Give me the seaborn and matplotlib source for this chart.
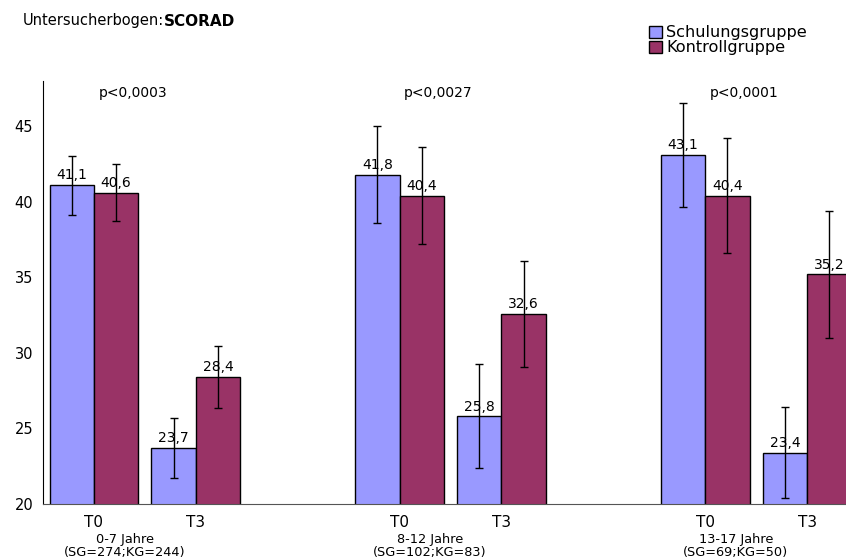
import pandas as pd
import seaborn as sns
import matplotlib.pyplot as plt
from matplotlib.patches import Patch

# categories on the x axis ("gap" = space between age groups)
categories = ["g1_T0", "g1_T3", "gap1", "g2_T0", "g2_T3", "gap2", "g3_T0", "g3_T3"]
tick_labels = ["T0", "T3", "", "T0", "T3", "", "T0", "T3"]
age_groups = ["0-7 Jahre\n(SG=274;KG=244)", "8-12 Jahre\n(SG=102;KG=83)", "13-17 Jahre\n(SG=69;KG=50)"]
p_values = ["p<0,0003", "p<0,0027", "p<0,0001"]

bar_cats = ["g1_T0", "g1_T3", "g2_T0", "g2_T3", "g3_T0", "g3_T3"]
schulung = [41.1, 23.7, 41.8, 25.8, 43.1, 23.4]
schulung_sd = [1.95, 2.0, 3.2, 3.45, 3.45, 3.0]
kontroll = [40.6, 28.4, 40.4, 32.6, 40.4, 35.2]
kontroll_sd = [1.9, 2.05, 3.2, 3.5, 3.8, 4.2]

groups = ["Schulungsgruppe", "Kontrollgruppe"]
colors = ["#9999FF", "#993366"]

df = pd.DataFrame({
    "cat": bar_cats * 2,
    "gruppe": [groups[0]] * len(bar_cats) + [groups[1]] * len(bar_cats),
    "wert": schulung + kontroll,
    "sd": schulung_sd + kontroll_sd,
})

sns.set_style("white")
plt.rcParams["font.family"] = ["DejaVu Sans"]
plt.rcParams["text.color"] = "black"
plt.rcParams["xtick.color"] = "black"
plt.rcParams["ytick.color"] = "black"

fig = plt.figure(figsize=(8.46, 5.59), dpi=100)
ax = fig.add_axes([43 / 846, 55 / 559, 815 / 846, 423 / 559])

sns.barplot(data=df, x="cat", y="wert", hue="gruppe", order=categories,
            hue_order=groups, palette=colors, saturation=1, width=0.87, gap=0,
            edgecolor="black", linewidth=1, errorbar=None, ax=ax, legend=False)

# error bars and value labels
bar_containers = list(ax.containers)
for gi, cont in enumerate(bar_containers):
    sub = df[df["gruppe"] == groups[gi]].set_index("cat")
    xs, ys, es, labs = [], [], [], []
    for bar in cont:
        xc = bar.get_x() + bar.get_width() / 2
        cat = categories[int(round(xc))]
        xs.append(xc)
        ys.append(sub.loc[cat, "wert"])
        es.append(sub.loc[cat, "sd"])
        labs.append(f"{sub.loc[cat, 'wert']:.1f}".replace(".", ","))
    ax.bar_label(cont, labels=labs, padding=2, fontsize=10)
    ax.errorbar(xs, ys, yerr=es, fmt="none", ecolor="black", elinewidth=1,
                capsize=3, capthick=1, zorder=5)

ax.set_ylim(20, 48)
ax.set_xlim(-0.5, 7.5)
ax.set_yticks([20, 25, 30, 35, 40, 45])
ax.set_xticks(range(len(categories)))
ax.set_xticklabels(tick_labels, fontsize=11)
ax.set_xticks([i + 0.5 for i in range(-1, len(categories))], minor=True)
ax.tick_params(axis="x", which="major", length=0, pad=8)
ax.tick_params(axis="x", which="minor", length=4, direction="out", width=0.8)
ax.tick_params(axis="y", length=4, direction="out", width=0.8, labelsize=10.5, pad=3)
ax.set_xlabel("")
ax.set_ylabel("")
for s in ["top", "right"]:
    ax.spines[s].set_visible(False)
ax.spines["left"].set_color("black")
ax.spines["bottom"].set_color("#555555")
ax.spines["left"].set_linewidth(0.8)
ax.spines["bottom"].set_linewidth(0.8)

for i, (lab, p) in enumerate(zip(age_groups, p_values)):
    x0 = 3 * i
    ax.text(x0 + 0.3, -0.068, lab, transform=ax.get_xaxis_transform(),
            ha="center", va="top", fontsize=9.3, linespacing=1.05)
    ax.text(x0 + 0.38, 47.2, p, ha="center", va="center", fontsize=10)

# title
t1 = fig.text(23 / 846, 1 - 21 / 559, "Untersucherbogen:", fontsize=10.5, va="center")
fig.canvas.draw()
bb = t1.get_window_extent()
fig.text(bb.x1 / 846, 1 - 21 / 559, "SCORAD", fontsize=11, fontweight="bold", va="center")

# legend
handles = [Patch(facecolor=c, edgecolor="black", linewidth=1) for c in colors]
fig.legend(handles, groups, loc="upper left", bbox_to_anchor=(643 / 846, 1 - 19 / 559),
           frameon=False, fontsize=11.6, handlelength=0.75, handleheight=0.75,
           handletextpad=0.3, labelspacing=0.0, borderaxespad=0)

fig.savefig("out.png", dpi=100)
